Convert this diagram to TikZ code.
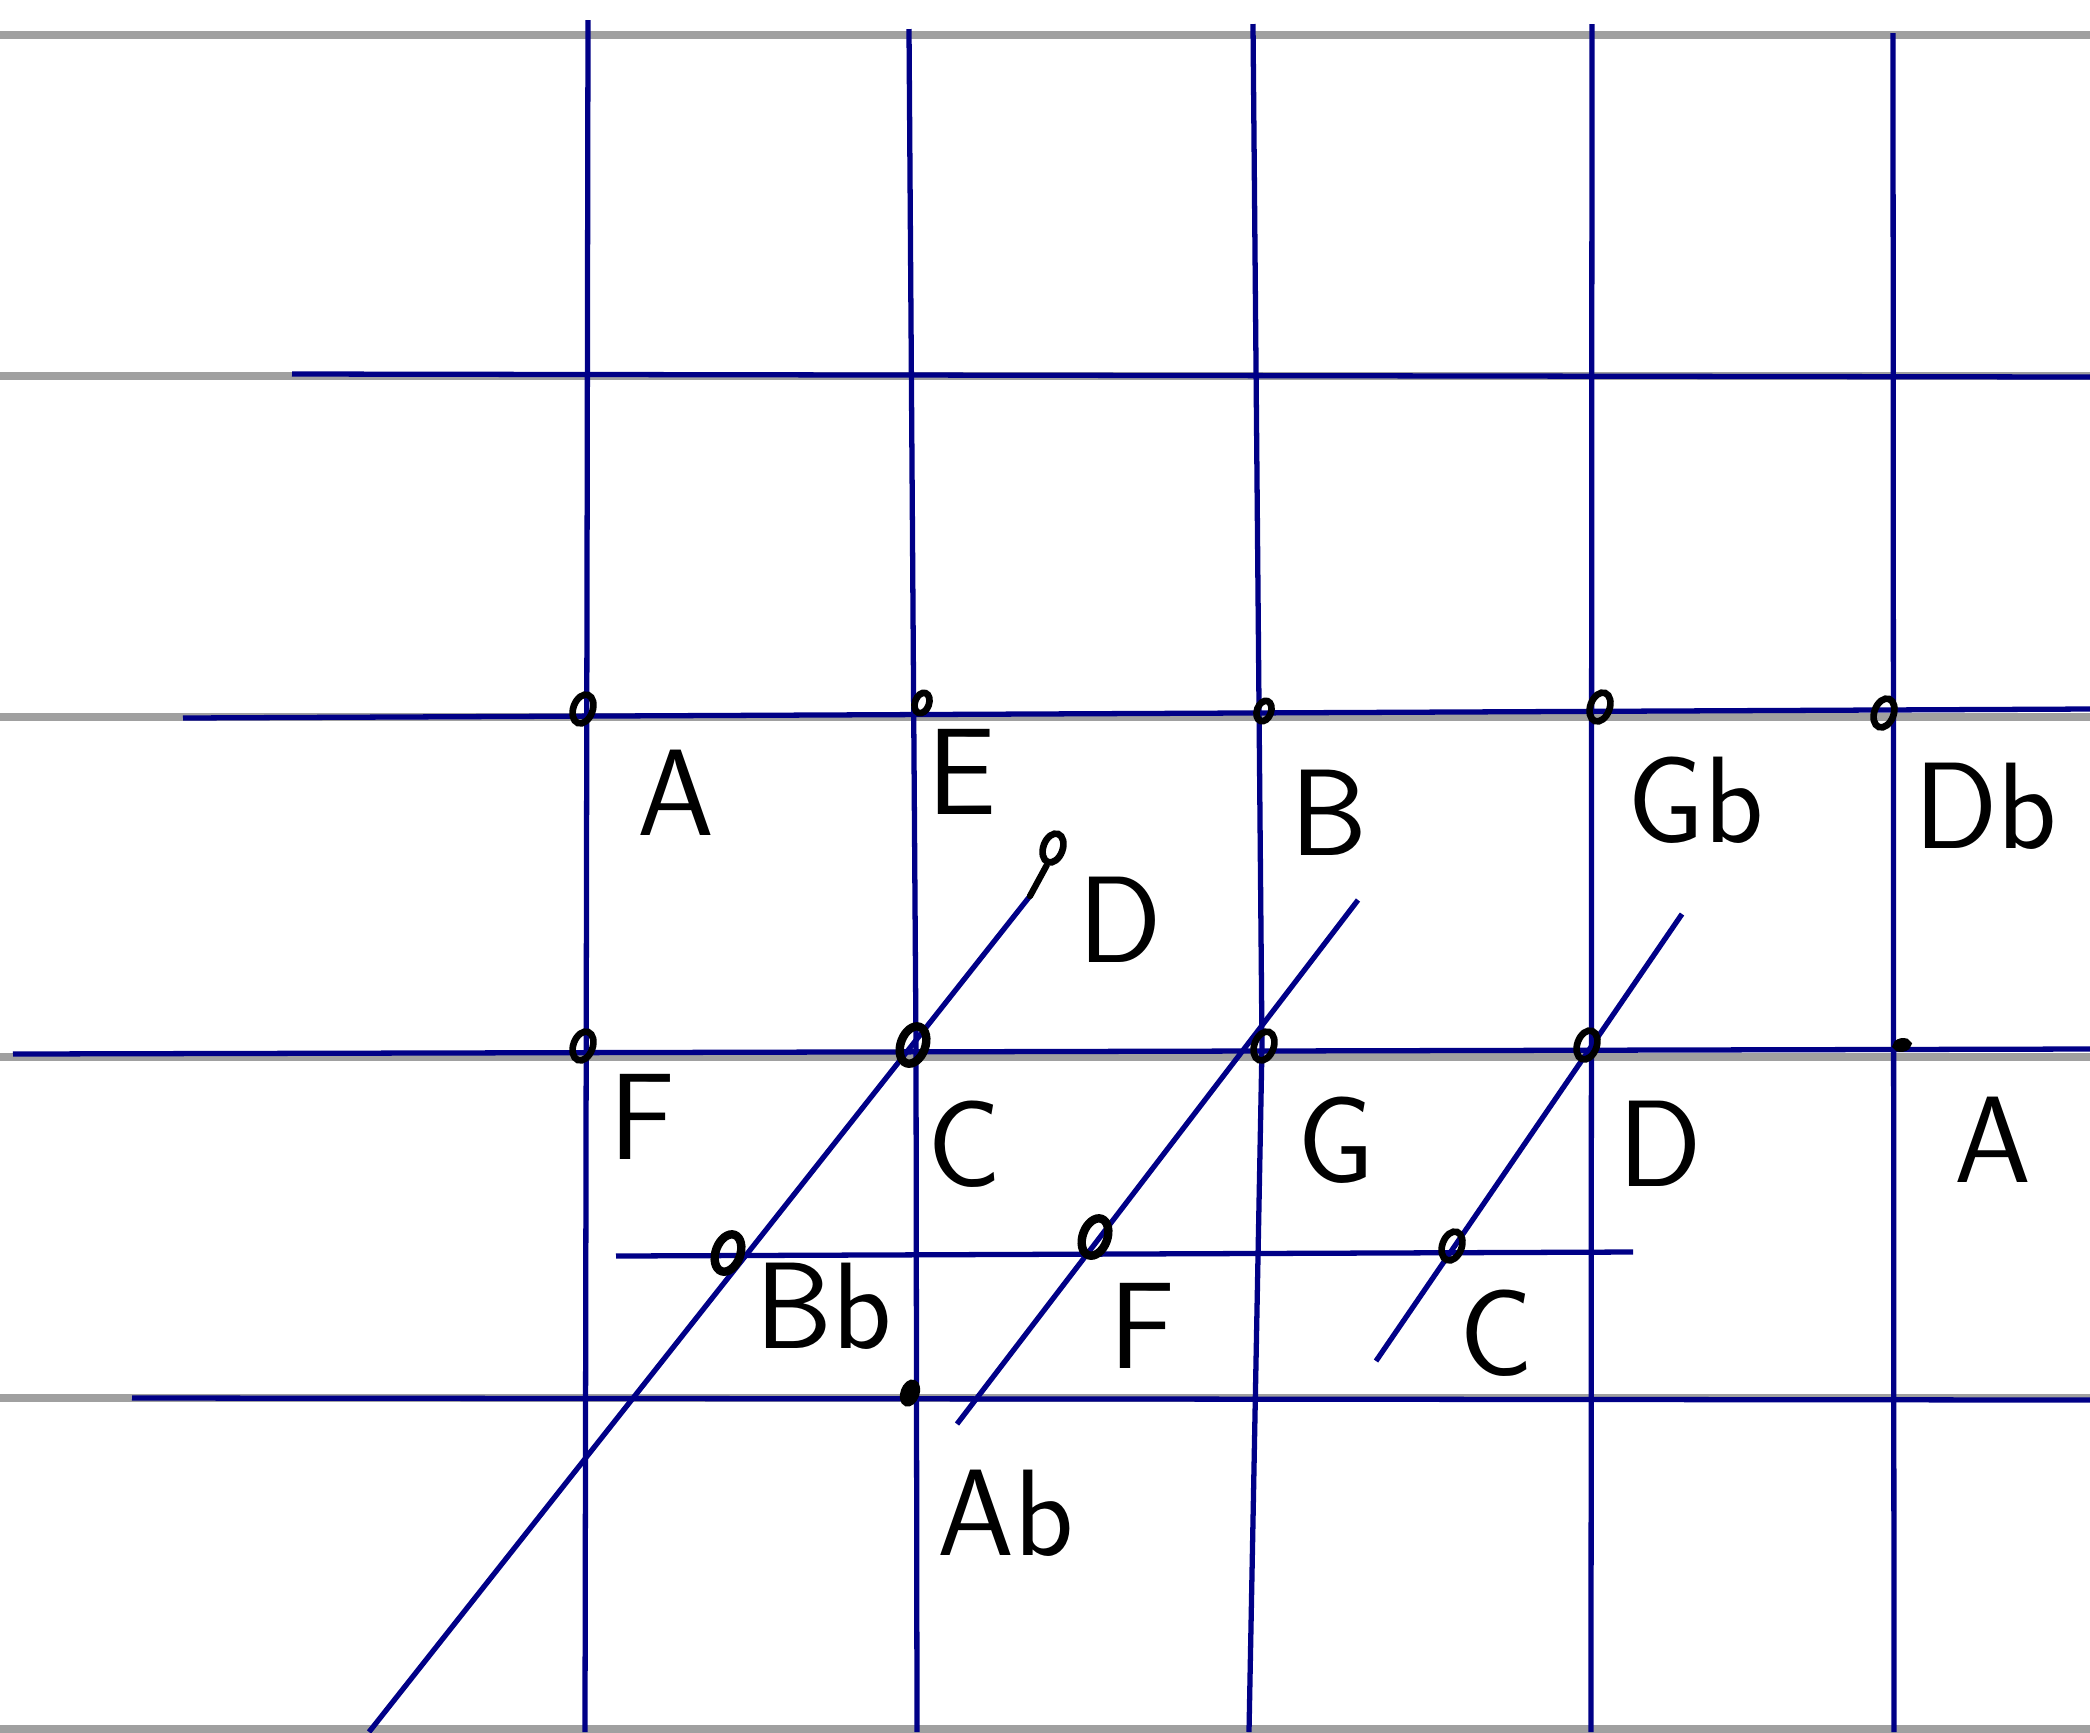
\documentclass[tikz,border=0pt]{standalone}
\usetikzlibrary{shapes.geometric}
\definecolor{ink}{RGB}{0,0,135}
\definecolor{ruling}{RGB}{160,160,160}
\begin{document}
\begin{tikzpicture}[x=0.01cm,y=-0.01cm,
  rulingline/.style={draw=ruling,line width=2.2pt},
  blueline/.style={draw=ink,line width=1.5pt},
  inkline/.style={draw=black,line width=1.8pt,line cap=round},
  pt/.style={ellipse,draw=black,line width=1.9pt,inner sep=0pt,minimum width=5.5pt,minimum height=8.5pt,rotate=-20},
  bigpt/.style={pt,line width=2.4pt,minimum width=7pt,minimum height=11pt},
  lab/.style={font=\sffamily\fontsize{35}{38}\selectfont,inner sep=0pt}]
\useasboundingbox (0,0) rectangle (2090,1732);
\fill[white] (0,0) rectangle (2090,1732);
% notebook rulings
\foreach \yy/\nm in {35/r1,376/r2,717/r3,1057/r4,1398/r5,1729/r6}{
  \coordinate (\nm a) at (0,\yy); \coordinate (\nm b) at (2090,\yy);
  \draw[rulingline] (\nm a) -- (\nm b);}
% horizontal blue lines
\coordinate (h1a) at (292,374); \coordinate (h1b) at (2090,377);
\coordinate (h2a) at (183,718); \coordinate (h2b) at (2090,709);
\coordinate (h3a) at (13,1054); \coordinate (h3b) at (2090,1049);
\coordinate (h4a) at (132,1398); \coordinate (h4b) at (2090,1400);
\coordinate (h5a) at (616,1256); \coordinate (h5b) at (1633,1252);
\draw[blueline] (h1a) -- (h1b);
\draw[blueline] (h2a) -- (h2b);
\draw[blueline] (h3a) -- (h3b);
\draw[blueline] (h4a) -- (h4b);
\draw[blueline] (h5a) -- (h5b);
% vertical blue lines
\coordinate (v1a) at (588,20); \coordinate (v1b) at (585,1732);
\coordinate (v2a) at (909,29); \coordinate (v2m) at (916,1046); \coordinate (v2b) at (917,1732);
\coordinate (v3a) at (1253,24); \coordinate (v3m) at (1262,1046); \coordinate (v3b) at (1249,1732);
\coordinate (v4a) at (1592,24); \coordinate (v4b) at (1591,1732);
\coordinate (v5a) at (1893,33); \coordinate (v5b) at (1894,1732);
\draw[blueline] (v1a) -- (v1b);
\draw[blueline] (v2a) -- (v2m) -- (v2b);
\draw[blueline] (v3a) -- (v3m) -- (v3b);
\draw[blueline] (v4a) -- (v4b);
\draw[blueline] (v5a) -- (v5b);
% diagonal lines
\coordinate (d1a) at (369,1732); \coordinate (d1b) at (1030,896);
\coordinate (d2a) at (957,1424); \coordinate (d2b) at (1358,900);
\coordinate (d3a) at (1376,1361); \coordinate (d3b) at (1682,914);
\draw[blueline] (d1a) -- (d1b);
\draw[blueline] (d2a) -- (d2b);
\draw[blueline] (d3a) -- (d3b);
% points
\node[pt] (p1) at (583,709) {};
\node[pt,minimum width=4pt,minimum height=6pt] (p2) at (922,703) {};
\node[pt,minimum width=4pt,minimum height=6pt] (p3) at (1264,711) {};
\node[pt] (p4) at (1600,707) {};
\node[pt] (p5) at (1884,713) {};
\node[pt] (p6) at (583,1046) {};
\node[bigpt] (p7) at (913,1045) {};
\node[pt] (p8) at (1264,1046) {};
\node[pt] (p9) at (1587,1045) {};
\node[bigpt] (p10) at (728,1253) {};
\node[bigpt] (p11) at (1095,1237) {};
\node[pt] (p12) at (1452,1246) {};
\node[pt,fill=black,minimum width=3.5pt,minimum height=6pt] (p13) at (910,1393) {};
\node[pt] (p14) at (1053,848) {};
\node[pt,fill=black,minimum width=2pt,minimum height=3.5pt,rotate=-60] (p15) at (1902,1045) {};
\draw[inkline] (d1b) -- (p14.south);
% labels
\node[lab] (lA1) at (676,793) {A};
\node[lab] (lE) at (962,772) {E};
\node[lab] (lB) at (1329,813) {B};
\node[lab] (lGb) at (1696,800) {Gb};
\node[lab] (lDb) at (1986,806) {Db};
\node[lab] (lD1) at (1120,920) {D};
\node[lab] (lF1) at (642,1117) {F};
\node[lab] (lC1) at (964,1144) {C};
\node[lab] (lG) at (1336,1140) {G};
\node[lab] (lD2) at (1660,1144) {D};
\node[lab] (lA2) at (1993,1140) {A};
\node[lab] (lBb) at (824,1306) {Bb};
\node[lab] (lF2) at (1142,1326) {F};
\node[lab] (lC2) at (1496,1333) {C};
\node[lab] (lAb) at (1006,1513) {Ab};
\end{tikzpicture}
\end{document}
